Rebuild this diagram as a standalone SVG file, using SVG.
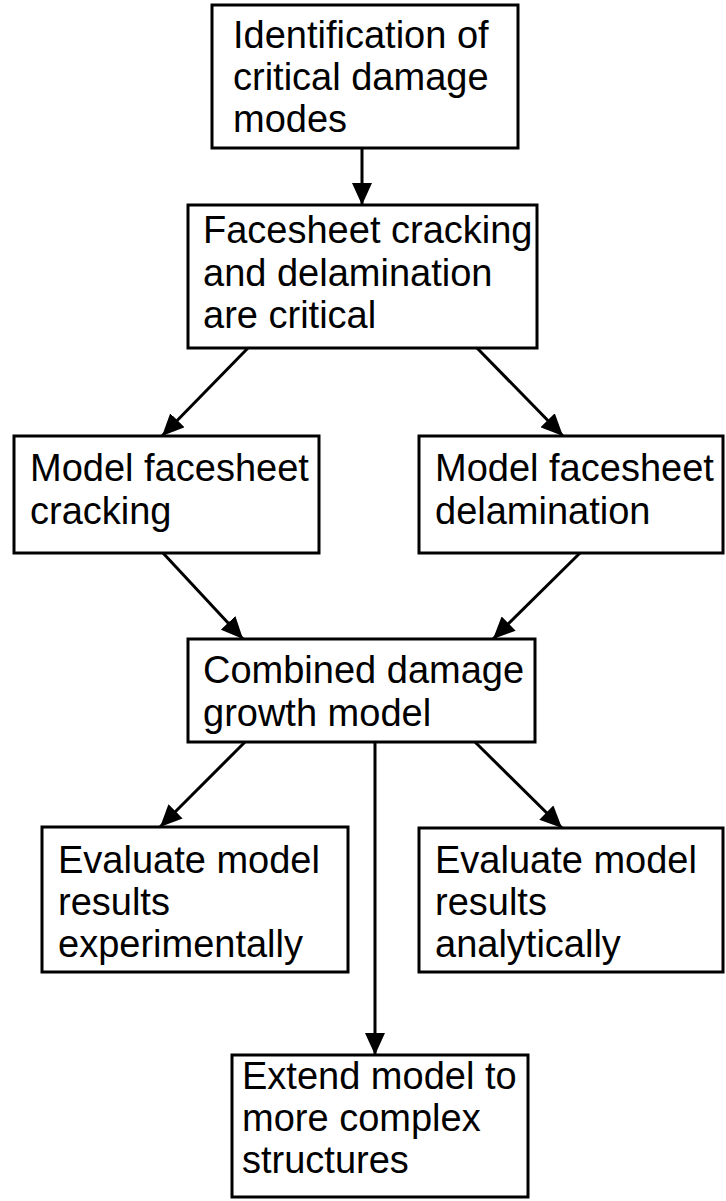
<svg xmlns="http://www.w3.org/2000/svg" width="726" height="1201" viewBox="0 0 726 1201">
<style>
.box{fill:#fff;stroke:#000;stroke-width:3}
.t{font-family:"Liberation Sans",Arial,sans-serif;font-size:38px;fill:#000}
.c{stroke:#000;stroke-width:3;fill:none}
</style>
<defs>
<marker id="ah" viewBox="0 0 22 20" refX="22" refY="10" markerWidth="22" markerHeight="20" markerUnits="userSpaceOnUse" orient="auto">
<path d="M0,0 L22,10 L0,20 z" fill="#000"/>
</marker>
</defs>
<rect width="726" height="1201" fill="#fff"/>
<g id="connectors">
<line class="c" x1="362" y1="148" x2="362" y2="205" marker-end="url(#ah)"/>
<line class="c" x1="248" y1="348" x2="162" y2="436" marker-end="url(#ah)"/>
<line class="c" x1="477" y1="348" x2="563" y2="436" marker-end="url(#ah)"/>
<line class="c" x1="163" y1="553" x2="243" y2="639" marker-end="url(#ah)"/>
<line class="c" x1="580" y1="553" x2="493" y2="639" marker-end="url(#ah)"/>
<line class="c" x1="245" y1="742" x2="160" y2="827" marker-end="url(#ah)"/>
<line class="c" x1="475" y1="742" x2="562" y2="828" marker-end="url(#ah)"/>
<line class="c" x1="375" y1="742" x2="375" y2="1055" marker-end="url(#ah)"/>
</g>
<g id="n1">
<rect class="box" x="212" y="5" width="306" height="143"/>
<text class="t" x="233" y="48">Identification of</text>
<text class="t" x="233" y="90">critical damage</text>
<text class="t" x="233" y="132">modes</text>
</g>
<g id="n2">
<rect class="box" x="188" y="205" width="349" height="143"/>
<text class="t" x="203" y="243">Facesheet cracking</text>
<text class="t" x="203" y="286">and delamination</text>
<text class="t" x="203" y="328">are critical</text>
</g>
<g id="n3">
<rect class="box" x="14" y="436" width="305" height="117"/>
<text class="t" x="30" y="481">Model facesheet</text>
<text class="t" x="30" y="524">cracking</text>
</g>
<g id="n4">
<rect class="box" x="419" y="436" width="304" height="117"/>
<text class="t" x="435" y="481">Model facesheet</text>
<text class="t" x="435" y="524">delamination</text>
</g>
<g id="n5">
<rect class="box" x="188" y="639" width="347" height="103"/>
<text class="t" x="203" y="683">Combined damage</text>
<text class="t" x="203" y="726">growth model</text>
</g>
<g id="n6">
<rect class="box" x="42" y="827" width="306" height="145"/>
<text class="t" x="58" y="873">Evaluate model</text>
<text class="t" x="58" y="915">results</text>
<text class="t" x="58" y="957">experimentally</text>
</g>
<g id="n7">
<rect class="box" x="419" y="828" width="304" height="144"/>
<text class="t" x="435" y="873">Evaluate model</text>
<text class="t" x="435" y="915">results</text>
<text class="t" x="435" y="957">analytically</text>
</g>
<g id="n8">
<rect class="box" x="232" y="1055" width="296" height="142"/>
<text class="t" x="242" y="1089">Extend model to</text>
<text class="t" x="242" y="1131">more complex</text>
<text class="t" x="242" y="1173">structures</text>
</g>
</svg>
